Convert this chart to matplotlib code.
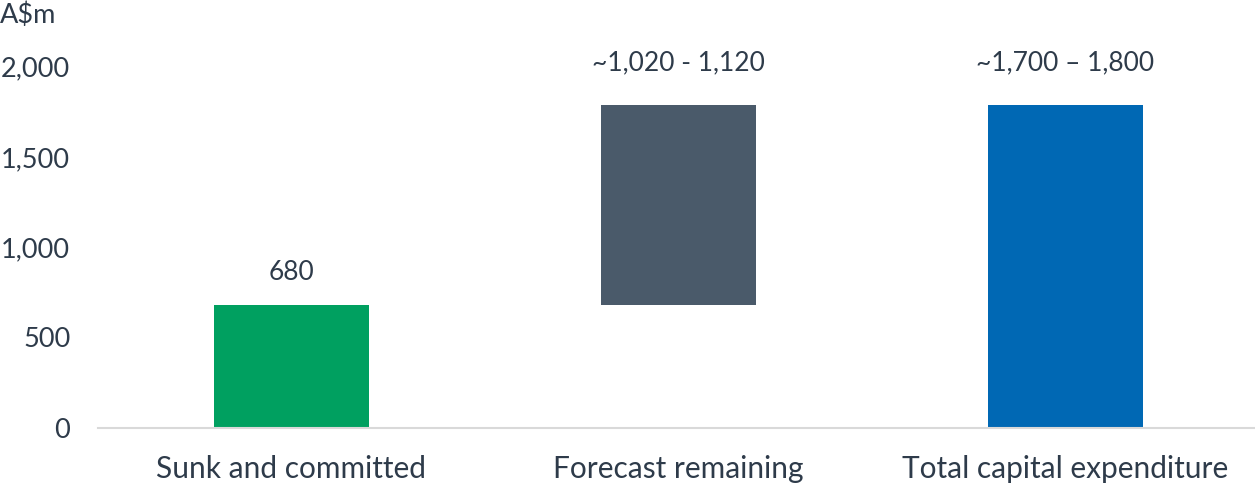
import matplotlib.pyplot as plt

plt.rcParams['font.family'] = ['Lato', 'DejaVu Sans']

categories = ["Sunk and committed", "Forecast remaining", "Total capital expenditure"]
bottoms = [0, 680, 0]
heights = [680, 1110, 1790]
labels = ["680", "~1,020 - 1,120", "~1,700 \u2013 1,800"]
colors = ["#00A060", "#4A5A6A", "#0068B4"]
yticks = [0, 500, 1000, 1500, 2000]

txt = "#2E3B4A"

fig = plt.figure(figsize=(12.55, 4.84), dpi=100)
ax = fig.add_axes([98 / 1255, 1 - 427.5 / 484, 1161 / 1255, 360.8 / 484])

x = range(len(categories))
bars = ax.bar(x, heights, bottom=bottoms, width=0.4, color=colors)

# value labels above each bar
for i, b in enumerate(bars):
    top = b.get_y() + b.get_height()
    off = 32 if i == 0 else 42
    ax.annotate(labels[i], (b.get_x() + b.get_width() / 2, top),
                xytext=(0, off), textcoords="offset pixels",
                ha="center", va="center", fontsize=19, color=txt)

ax.set_xlim(-0.5, 2.5)
ax.set_ylim(0, 2000)
ax.set_yticks(yticks)
ax.set_yticklabels([f"{v:,}" for v in yticks])
ax.set_xticks(list(x))
ax.set_xticklabels(categories)

for s in ["top", "right", "left"]:
    ax.spines[s].set_visible(False)
ax.spines["bottom"].set_color("#D9D9D9")
ax.spines["bottom"].set_linewidth(1.5)
ax.tick_params(axis="y", length=0, pad=20, labelsize=19.5, labelcolor=txt)
ax.tick_params(axis="x", length=0, pad=20, labelsize=21.5, labelcolor=txt)

fig.text(0, 1 - 15 / 484, "A$m", ha="left", va="center", fontsize=19.5, color=txt)

fig.savefig("out.png", dpi=100)
